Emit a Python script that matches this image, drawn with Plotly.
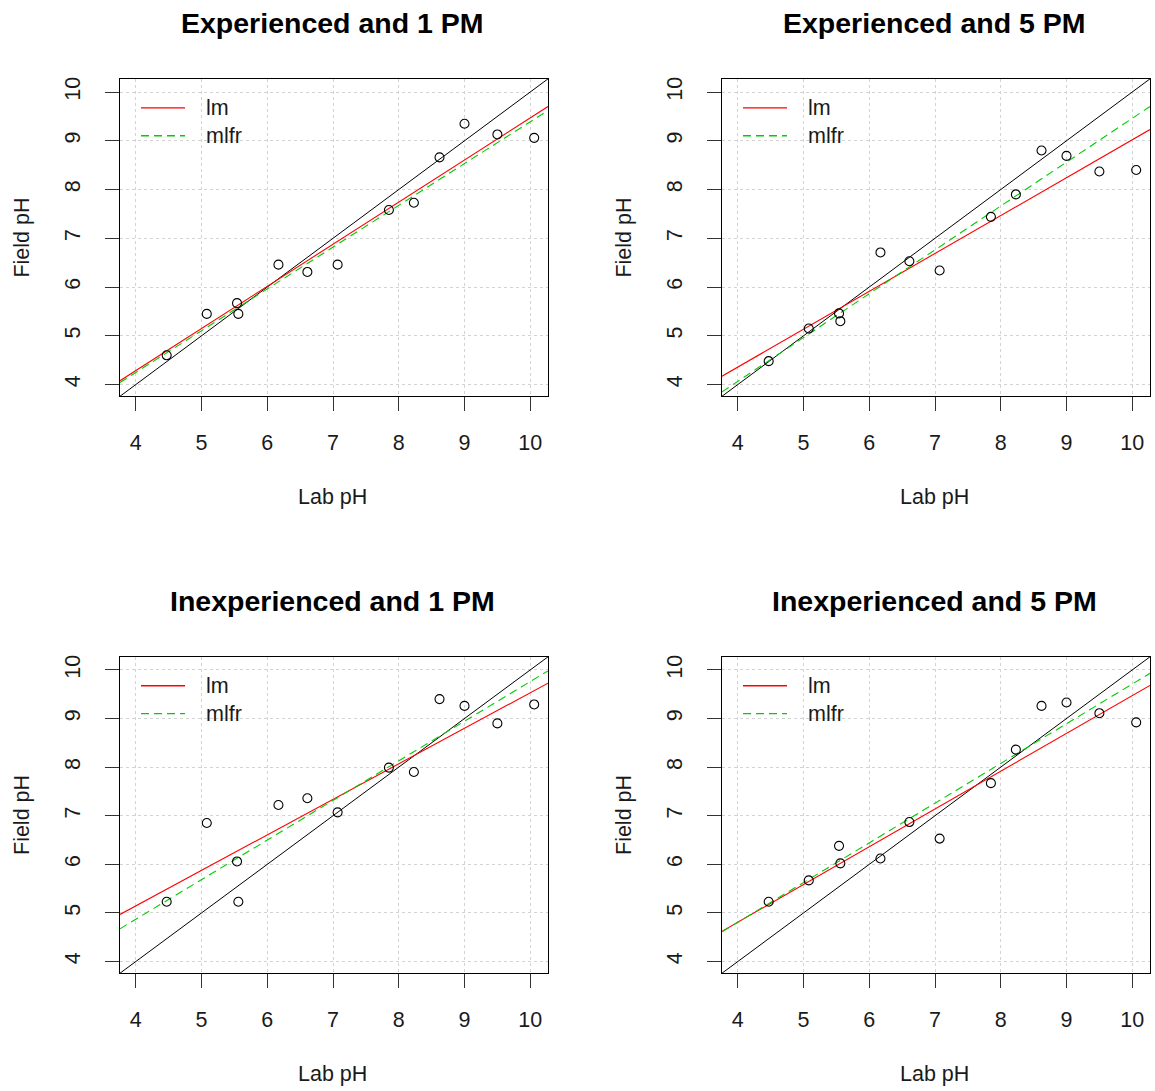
import plotly.graph_objects as go

# ---------------- data ----------------
lab_ph = [4.47, 5.08, 5.54, 5.56, 6.17, 6.61, 7.07, 7.85, 8.23, 8.62, 9.00, 9.50, 10.06]

field_exp_1pm = [4.60, 5.45, 5.67, 5.45, 6.46, 6.31, 6.46, 7.58, 7.73, 8.66, 9.35, 9.13, 9.06]
field_exp_5pm = [4.48, 5.15, 5.46, 5.30, 6.71, 6.53, 6.34, 7.44, 7.90, 8.80, 8.69, 8.37, 8.40]
field_inexp_1pm = [5.23, 6.85, 6.06, 5.23, 7.22, 7.36, 7.07, 7.99, 7.90, 9.40, 9.26, 8.90, 9.29]
field_inexp_5pm = [5.23, 5.67, 6.38, 6.02, 6.12, 6.87, 6.53, 7.67, 8.36, 9.26, 9.33, 9.11, 8.92]

panel_titles = ["Experienced and 1 PM", "Experienced and 5 PM",
                "Inexperienced and 1 PM", "Inexperienced and 5 PM"]

lm_intercept = [0.83, 1.25, 2.22, 1.70]
lm_slope = [0.864, 0.777, 0.731, 0.777]
mlfr_intercept = [0.82, 0.47, 1.61, 1.54]
mlfr_slope = [0.857, 0.899, 0.815, 0.817]

legend_names = ["lm", "mlfr"]
axis_lim = [3.76, 10.27]
tick_vals = [4, 5, 6, 7, 8, 9, 10]
x_label = "Lab pH"
y_label = "Field pH"

# ---------------- layout geometry ----------------
W, H = 1155, 1091
boxes = [(120, 548, 77, 395), (722, 1150, 77, 395),
         (120, 548, 656, 973), (722, 1150, 656, 973)]

RED = "#FF0000"
GREEN = "#00CD00"
FONT = "Liberation Sans, Arial, sans-serif"
TICK_SIZE = 21.5
TEXT_COLOR = "#1a1a1a"
DASH = "8px,5px"


def fx(p):
    return p / W


def fy(p):
    return 1 - p / H


series = [field_exp_1pm, field_exp_5pm, field_inexp_1pm, field_inexp_5pm]

fig = go.Figure()
annotations = []
shapes = []

for i in range(4):
    xa = "x" if i == 0 else f"x{i+1}"
    ya = "y" if i == 0 else f"y{i+1}"
    x0, x1, y0, y1 = boxes[i]

    # identity line
    fig.add_trace(go.Scatter(x=axis_lim, y=axis_lim, mode="lines",
                             line=dict(color="black", width=1),
                             xaxis=xa, yaxis=ya, showlegend=False, hoverinfo="skip"))
    # lm fit
    fig.add_trace(go.Scatter(x=axis_lim,
                             y=[lm_intercept[i] + lm_slope[i] * v for v in axis_lim],
                             mode="lines", name=legend_names[0],
                             line=dict(color=RED, width=1.1),
                             xaxis=xa, yaxis=ya, showlegend=False))
    # mlfr fit
    fig.add_trace(go.Scatter(x=axis_lim,
                             y=[mlfr_intercept[i] + mlfr_slope[i] * v for v in axis_lim],
                             mode="lines", name=legend_names[1],
                             line=dict(color=GREEN, width=1.1, dash=DASH),
                             xaxis=xa, yaxis=ya, showlegend=False))
    # points
    fig.add_trace(go.Scatter(x=lab_ph, y=series[i], mode="markers",
                             marker=dict(symbol="circle-open", size=9,
                                         color="black", line=dict(width=1.1, color="black")),
                             xaxis=xa, yaxis=ya, showlegend=False, name=panel_titles[i]))

    axis_common = dict(range=axis_lim, tickvals=tick_vals, showline=True, mirror=True,
                       linecolor="black", linewidth=1, ticks="outside", ticklen=14,
                       tickcolor="#333333", tickwidth=1, showgrid=True,
                       gridcolor="#D3D3D3", griddash="dot", gridwidth=1,
                       zeroline=False,
                       tickfont=dict(family=FONT, size=TICK_SIZE, color=TEXT_COLOR))
    fig.update_layout(**{
        ("xaxis" if i == 0 else f"xaxis{i+1}"): dict(
            domain=[fx(x0), fx(x1)], anchor=ya, ticklabelstandoff=13, **axis_common),
        ("yaxis" if i == 0 else f"yaxis{i+1}"): dict(
            domain=[fy(y1), fy(y0)], anchor=xa, tickangle=-90, ticklabelstandoff=16,
            **axis_common),
    })

    cx = (x0 + x1) / 2
    cy = (y0 + y1) / 2
    # panel title
    annotations.append(dict(text=f"<b>{panel_titles[i]}</b>", x=fx(cx - 2), y=fy(y0 - 56),
                            xref="paper", yref="paper", showarrow=False,
                            xanchor="center", yanchor="middle",
                            font=dict(family=FONT, size=28.5, color="black")))
    # x label
    annotations.append(dict(text=x_label, x=fx(cx - 2), y=fy(y1 + 101),
                            xref="paper", yref="paper", showarrow=False,
                            xanchor="center", yanchor="middle",
                            font=dict(family=FONT, size=TICK_SIZE, color=TEXT_COLOR)))
    # y label
    annotations.append(dict(text=y_label, x=fx(x0 - 98), y=fy(cy), textangle=-90,
                            xref="paper", yref="paper", showarrow=False,
                            xanchor="center", yanchor="middle",
                            font=dict(family=FONT, size=TICK_SIZE, color=TEXT_COLOR)))

    # manual legend (R style, no box)
    bw, bh = x1 - x0, y1 - y0
    leg_rows = [(29, RED, "solid", legend_names[0]), (57, GREEN, DASH, legend_names[1])]
    for off, col, dash, name in leg_rows:
        shapes.append(dict(type="line", xref=f"{xa} domain", yref=f"{ya} domain",
                           x0=21 / bw, x1=65 / bw, y0=1 - off / bh, y1=1 - off / bh,
                           line=dict(color=col, width=1.3, dash=dash)))
        annotations.append(dict(text=name, xref=f"{xa} domain", yref=f"{ya} domain",
                                x=84 / bw, y=1 - off / bh, xanchor="left", yanchor="middle",
                                showarrow=False,
                                font=dict(family=FONT, size=TICK_SIZE, color=TEXT_COLOR)))

fig.update_layout(width=W, height=H, margin=dict(l=0, r=0, t=0, b=0),
                  paper_bgcolor="white", plot_bgcolor="white",
                  annotations=annotations, shapes=shapes, showlegend=False)

fig.write_html("out.html", config={"displayModeBar": False},
               post_script="document.body.style.margin='0';document.body.style.padding='0';"
                           "document.body.style.overflow='hidden';")
